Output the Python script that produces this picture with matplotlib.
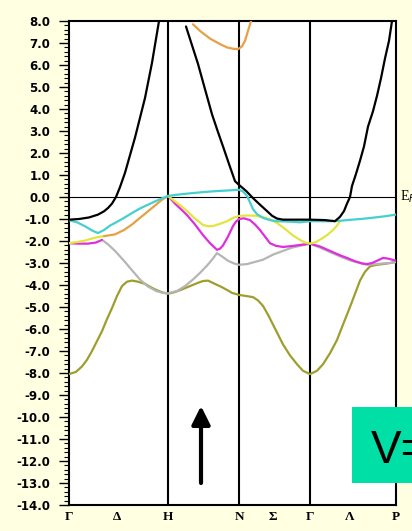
import numpy as np
import matplotlib
matplotlib.use("Agg")
import matplotlib.pyplot as plt
from matplotlib.ticker import MultipleLocator, FixedLocator
from matplotlib.patches import Rectangle

# path coordinate (units: Gamma-H distance = 99)
sym_pos = [0, 99, 170, 241, 327]
label_pos = [0, 48, 99, 170, 204, 241, 281, 327]
label_txt = ["Γ", "Δ", "H", "N", "Σ", "Γ", "Λ", "P"]
ymin, ymax = -14.0, 8.0

black1_k = [0, 10, 20, 29, 35, 39, 43, 47, 51, 56, 61, 66, 71, 76, 83, 90, 93]
black1_e = [-1.03, -1.0, -0.93, -0.8, -0.65, -0.5, -0.3, 0.0, 0.45, 1.1, 1.9, 2.7, 3.6, 4.5, 6.1, 8.0, 8.8]

black2_k = [117, 123, 129, 136, 143, 149, 154, 160, 166, 170, 177, 184, 191, 198, 203, 208, 214,
            226, 241, 256, 266, 271, 275, 278, 281, 283, 287, 291, 295, 299, 304, 308, 312, 316, 320, 323, 326]
black2_e = [7.75, 6.9, 6.05, 4.9, 3.76, 2.95, 2.3, 1.5, 0.72, 0.55, 0.28, -0.05, -0.35, -0.64, -0.85, -0.98, -1.03,
            -1.03, -1.03, -1.05, -1.1, -0.9, -0.64, -0.3, 0.0, 0.5, 1.05, 1.65, 2.3, 3.2, 3.9, 4.6, 5.4, 6.3, 7.1, 8.0, 8.6]

orange_top_k = [124, 131, 141, 151, 158, 164, 169, 173, 176, 179, 182, 183]
orange_top_e = [7.85, 7.55, 7.2, 6.95, 6.8, 6.74, 6.72, 6.85, 7.1, 7.55, 8.0, 8.3]

cyan_k = [0, 8, 16, 23, 29, 35, 41, 46, 55, 63, 71, 79, 87, 93, 99,
          111, 124, 136, 148, 160, 170,
          174, 178, 181, 184, 188, 194, 201, 208, 221, 231, 241,
          251, 261, 271, 283, 294, 306, 317, 327]
cyan_e = [-1.05, -1.15, -1.33, -1.52, -1.64, -1.5, -1.3, -1.18, -0.95, -0.73, -0.52, -0.35, -0.18, -0.06, 0.05,
          0.12, 0.18, 0.23, 0.27, 0.3, 0.33,
          0.25, 0.05, -0.25, -0.55, -0.78, -0.95, -1.05, -1.1, -1.12, -1.15, -1.1,
          -1.1, -1.1, -1.08, -1.03, -0.99, -0.93, -0.87, -0.8]

orange_k = [35, 46, 55, 63, 71, 79, 87, 93, 99]
orange_e = [-1.78, -1.7, -1.5, -1.25, -0.95, -0.65, -0.35, -0.12, 0.05]

yellow1_k = [0, 8, 16, 22, 29, 35]
yellow1_e = [-2.1, -2.05, -1.98, -1.9, -1.82, -1.78]

yellow2_k = [99, 106, 112, 118, 126, 134, 139, 144, 151, 158, 164, 170, 178, 186, 193, 201, 208, 216, 224, 231, 236, 241,
             247, 254, 259, 264, 268, 271]
yellow2_e = [0.05, -0.2, -0.4, -0.64, -0.98, -1.27, -1.33, -1.32, -1.22, -1.1, -0.95, -0.86, -0.84, -0.85, -0.9, -1.02,
             -1.18, -1.45, -1.75, -1.95, -2.07, -2.12,
             -2.05, -1.86, -1.7, -1.5, -1.3, -1.1]

magenta1_k = [0, 9, 19, 27, 33]
magenta1_e = [-2.1, -2.12, -2.12, -2.07, -1.95]

magenta2_k = [99, 106, 113, 118, 126, 134, 141, 148, 151, 154, 159, 164, 167, 170, 175, 181, 186, 191, 196, 201, 207,
              214, 223, 231, 241, 251, 261, 271, 278, 286, 293, 298, 303, 308, 314, 319, 324, 327]
magenta2_e = [0.05, -0.3, -0.6, -0.82, -1.25, -1.73, -2.1, -2.4, -2.35, -2.2, -1.8, -1.32, -1.12, -1.0, -0.97, -1.05,
              -1.25, -1.5, -1.8, -2.1, -2.22, -2.27, -2.23, -2.18, -2.12, -2.25, -2.45, -2.65, -2.77, -2.92, -3.02,
              -3.05, -3.0, -2.9, -2.77, -2.8, -2.86, -2.9]

gray_k = [33, 39, 46, 55, 63, 71, 79, 87, 93, 99,
          108, 116, 124, 131, 138, 143, 148, 153, 159, 165, 170,
          178, 186, 194, 204, 214, 223, 231, 241,
          251, 261, 271, 281, 291, 298, 306, 314, 321, 327]
gray_e = [-1.95, -2.15, -2.45, -2.9, -3.33, -3.75, -4.07, -4.27, -4.35, -4.38,
          -4.27, -4.05, -3.75, -3.45, -3.12, -2.85, -2.55, -2.7, -2.9, -3.02, -3.08,
          -3.05, -2.95, -2.85, -2.62, -2.45, -2.3, -2.22, -2.12,
          -2.3, -2.5, -2.7, -2.88, -3.0, -3.08, -3.05, -3.02, -3.0, -2.95]

olive_k = [0, 7, 13, 18, 23, 28, 33, 38, 43, 48, 53, 58, 63, 69, 76, 81, 86, 93, 99,
           106, 113, 121, 129, 134, 139, 146, 153, 159, 163, 170,
           177, 184, 189, 194, 199, 204, 209, 214, 221, 228, 234, 241,
           248, 254, 261, 268, 274, 281, 286, 291, 296, 301, 308, 314, 321, 327]
olive_e = [-8.05, -7.95, -7.7, -7.4, -7.0, -6.55, -6.1, -5.55, -5.05, -4.5, -4.05, -3.85, -3.8, -3.85, -3.95, -4.08,
           -4.2, -4.33, -4.4,
           -4.32, -4.2, -4.05, -3.9, -3.82, -3.8, -3.95, -4.1, -4.25, -4.36, -4.45,
           -4.5, -4.55, -4.7, -4.95, -5.35, -5.8, -6.25, -6.7, -7.2, -7.6, -7.9, -8.05,
           -7.9, -7.6, -7.1, -6.5, -5.8, -5.0, -4.4, -3.8, -3.4, -3.15, -3.08, -3.05, -3.0, -2.95]

bands = [
    (olive_k, olive_e, "#9E9E2E"),
    (gray_k, gray_e, "#B5B5B5"),
    (magenta1_k, magenta1_e, "#DE2EDE"),
    (magenta2_k, magenta2_e, "#DE2EDE"),
    (yellow1_k, yellow1_e, "#E4E43E"),
    (yellow2_k, yellow2_e, "#E4E43E"),
    (orange_k, orange_e, "#E6A045"),
    (orange_top_k, orange_top_e, "#E6A045"),
    (cyan_k, cyan_e, "#45CFCF"),
    (black1_k, black1_e, "#000000"),
    (black2_k, black2_e, "#000000"),
]

W, H = 412, 531
fig = plt.figure(figsize=(W / 100, H / 100), dpi=100, facecolor="#FFFFE2")
ax = fig.add_axes([69 / W, 1 - 505 / H, 327 / W, 484 / H])
ax.set_facecolor("white")

for kk, ee, col in bands:
    ax.plot(kk, ee, color=col, lw=1.6, solid_capstyle="round", zorder=3)

for p in sym_pos[1:-1]:
    ax.axvline(p, color="black", lw=1.5, zorder=2)
ax.axhline(0, color="black", lw=0.8, zorder=2)

ax.set_xlim(sym_pos[0], sym_pos[-1])
ax.set_ylim(ymin, ymax)

for s in ax.spines.values():
    s.set_linewidth(1.5)

yt = np.arange(ymin, ymax + 0.01, 1.0)
ax.set_yticks(yt)
ax.set_yticklabels([f"{v:.1f}" for v in yt], fontsize=8.5, fontweight="bold", family="DejaVu Sans")
ax.yaxis.set_minor_locator(MultipleLocator(0.2))
ax.tick_params(axis="y", which="major", direction="out", length=7, width=1.0, pad=6.5)
ax.tick_params(axis="y", which="minor", direction="out", length=3.5, width=0.8)

ax.xaxis.set_major_locator(FixedLocator(label_pos))
ax.set_xticklabels(label_txt, fontsize=9.5, fontweight="bold", family=["Liberation Serif", "DejaVu Serif"])
ax.tick_params(axis="x", which="both", length=0, pad=4)

ax.annotate("E$_F$", xy=(sym_pos[-1], 0), xytext=(3, 0), textcoords="offset points",
            va="center", ha="left", fontsize=10, family=["Liberation Serif", "DejaVu Serif"],
            annotation_clip=False)

ax.annotate("", xy=(132, -9.5), xytext=(132, -13.0),
            arrowprops=dict(arrowstyle="-|>,head_length=0.5,head_width=0.25", lw=3.0,
                            color="black", mutation_scale=22, shrinkA=0, shrinkB=0))

fig.patches.append(Rectangle((352 / W, 1 - 483 / H), 70 / W, 76 / H, transform=fig.transFigure,
                             facecolor="#00E0A6", edgecolor="none", zorder=5))
fig.text(371 / W, 1 - 463 / H, "V=", fontsize=33, family="Liberation Sans", color="black",
         ha="left", va="baseline", zorder=6)

fig.savefig("out.png", dpi=100, facecolor=fig.get_facecolor())
